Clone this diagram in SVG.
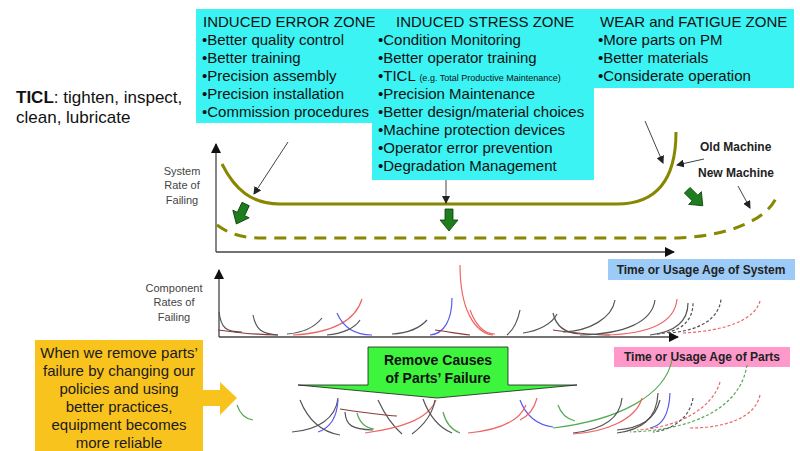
<svg xmlns="http://www.w3.org/2000/svg" width="800" height="451" viewBox="0 0 800 451">
<style>
text{font-family:"Liberation Sans",Arial,sans-serif;}
.z{font-size:15px;fill:#111;}
.lab{font-size:11px;fill:#444;text-anchor:middle;}
.bl{font-size:12px;font-weight:bold;fill:#222;}
.ol{fill:none;stroke:#878700;stroke-width:3;}
.thin{fill:none;stroke:#444;stroke-width:1;marker-end:url(#ah);}
.ax{fill:none;stroke:#444;stroke-width:1.3;marker-end:url(#ah2);}
.g{fill:none;stroke:#555;stroke-width:1.2;}
.r{fill:none;stroke:#EE6666;stroke-width:1.2;}
.b{fill:none;stroke:#5A5AEE;stroke-width:1.2;}
.gr{fill:none;stroke:#55AA55;stroke-width:1.2;}
.br{fill:none;stroke:#8B3A3A;stroke-width:1.2;}
.d{stroke-dasharray:3 2;}
.garr{fill:#1E7E1E;stroke:#0B3B0B;stroke-width:0.8;}
</style>
<defs>
<marker id="ah" markerWidth="8" markerHeight="8" refX="7" refY="4" orient="auto" markerUnits="userSpaceOnUse"><path d="M0,0 L8,4 L0,8 Z" fill="#222"/></marker>
<marker id="ah2" markerWidth="10" markerHeight="10" refX="9" refY="5" orient="auto" markerUnits="userSpaceOnUse"><path d="M0,0 L10,5 L0,10 Z" fill="#111"/></marker>
<path id="ga" d="M-4,-11 H4 V0 H9 L0,11 L-9,0 H-4 Z"/>
</defs>
<rect width="800" height="451" fill="#fff"/>

<g id="cyan-boxes">
<rect x="196" y="9" width="177" height="114" fill="#3CF3F3"/>
<rect x="372" y="9" width="222" height="171" fill="#3CF3F3"/>
<rect x="590" y="9" width="204" height="79" fill="#3CF3F3"/>
</g>

<g id="induced-error-zone">
<text class="z" x="203" y="27">INDUCED ERROR ZONE</text>
<text class="z" x="202" y="45">•Better quality control</text>
<text class="z" x="202" y="63">•Better training</text>
<text class="z" x="202" y="81">•Precision assembly</text>
<text class="z" x="202" y="99">•Precision installation</text>
<text class="z" x="202" y="117">•Commission procedures</text>
</g>

<g id="induced-stress-zone">
<text class="z" x="396" y="27">INDUCED STRESS ZONE</text>
<text class="z" x="378" y="45">•Condition Monitoring</text>
<text class="z" x="378" y="63">•Better operator training</text>
<text class="z" x="378" y="81">•TICL <tspan font-size="9">(e.g. Total Productive Maintenance)</tspan></text>
<text class="z" x="378" y="99">•Precision Maintenance</text>
<text class="z" x="378" y="117">•Better design/material choices</text>
<text class="z" x="378" y="135">•Machine protection devices</text>
<text class="z" x="378" y="153">•Operator error prevention</text>
<text class="z" x="378" y="171">•Degradation Management</text>
</g>

<g id="wear-fatigue-zone">
<text class="z" x="600" y="27">WEAR and FATIGUE ZONE</text>
<text class="z" x="598" y="45">•More parts on PM</text>
<text class="z" x="598" y="63">•Better materials</text>
<text class="z" x="598" y="81">•Considerate operation</text>
</g>

<g id="ticl-note">
<text x="16" y="103" font-size="17" fill="#111"><tspan font-weight="bold">TICL</tspan>: tighten, inspect,</text>
<text x="16" y="123" font-size="17" fill="#111">clean, lubricate</text>
</g>

<g id="system-chart">
<text class="lab" x="182" y="175">System</text>
<text class="lab" x="182" y="189">Rate of</text>
<text class="lab" x="182" y="204">Failing</text>
<path class="ax" d="M216,252 V144"/>
<path class="ax" d="M216,252 H674"/>
<path class="ol" d="M222,164 C235,190 252,204 280,204 L617,204 C652,204 676,185 676,132"/>
<path class="ol" d="M217,225 C228,233 240,238 262,238 L678,238 C728,236 770,220 778,193" stroke-dasharray="12 8" stroke-width="3.5"/>
</g>

<g id="old-machine-label"><text class="bl" x="700" y="151" font-size="10.5">Old Machine</text></g>
<g id="new-machine-label"><text class="bl" x="698" y="177" font-size="10.5">New Machine</text></g>

<g id="time-system-box">
<rect x="608" y="259" width="187" height="21" fill="#9CCBF7"/>
<text class="bl" x="701" y="274" text-anchor="middle">Time or Usage Age of System</text>
</g>

<g id="green-arrows">
<use href="#ga" class="garr" transform="translate(241,214) rotate(25)"/>
<use href="#ga" class="garr" transform="translate(449,220)"/>
<use href="#ga" class="garr" transform="translate(695,198) rotate(-45)"/>
</g>

<g id="connectors">
<path class="thin" d="M288,142 L254,194"/>
<path class="thin" d="M446,180 L446,203"/>
<path class="thin" d="M645,121 L663,163"/>
<path class="thin" d="M704,159 L677,165"/>
<path class="thin" d="M738,186 L750,208"/>
</g>

<g id="component-chart">
<text class="lab" x="174" y="292">Component</text>
<text class="lab" x="174" y="306">Rates of</text>
<text class="lab" x="174" y="321">Failing</text>
<path class="ax" d="M219,337 V270"/>
<path class="ax" d="M219,337 H678"/>
<path class="g" d="M219,312 C221,328 226,332 242,332"/>
<path class="br" d="M218,330 C240,333 260,335 278,335"/>
<path class="g" d="M253,315 C256,330 262,334 278,335"/>
<path class="g" d="M287,334 C300,333 314,328 322,318"/>
<path class="r" d="M293,335 C330,333 355,322 362,299"/>
<path class="b" d="M337,313 C343,327 355,335 372,335"/>
<path class="g" d="M327,335 C342,334 355,328 360,320"/>
<path class="g" d="M392,334 C408,333 420,328 427,320"/>
<path class="b" d="M430,335 C444,334 452,320 452,298"/>
<path class="r" d="M460,265 C460,310 475,333 493,335"/>
<path class="br" d="M435,330 C450,332 460,334 470,335"/>
<path class="r" d="M470,310 C476,326 484,334 495,334"/>
<path class="g" d="M507,335 C513,330 518,320 520,310"/>
<path class="g" d="M523,333 C538,331 552,324 557,314"/>
<path class="g" d="M553,313 C556,327 565,333 580,334"/>
<path class="br" d="M553,330 C575,333 595,335 610,335"/>
<path class="g" d="M563,332 C590,331 612,318 615,300"/>
<path class="g" d="M580,335 C625,334 652,322 655,300"/>
<path class="r" d="M605,335 C650,334 675,322 677,299"/>
<path class="g" d="M650,335 C675,332 688,322 688,303"/>
<path class="g d" d="M657,334 C680,332 693,322 693,303"/>
<path class="g d" d="M668,333 C700,331 720,318 721,298"/>
<path class="r d" d="M683,333 C725,331 755,320 760,301"/>
</g>

<g id="time-parts-box">
<rect x="614" y="347" width="176" height="20" fill="#FF99CC"/>
<text class="bl" x="702" y="361" text-anchor="middle">Time or Usage Age of Parts</text>
</g>

<g id="remove-causes-arrow">
<path d="M368,347 H508 V385 H577 L437,398 L298,385 H368 Z" fill="#3DF53D" stroke="#1c1c1c" stroke-width="0.8"/>
<text x="438" y="365" font-size="14" font-weight="bold" fill="#111" text-anchor="middle">Remove Causes</text>
<text x="438" y="383" font-size="14" font-weight="bold" fill="#111" text-anchor="middle">of Parts’ Failure</text>
</g>

<g id="reliability-note">
<rect x="35" y="340" width="168" height="111" fill="#F9C31E"/>
<path d="M203,390 H220 V382 L237,398 L220,415 V406 H203 Z" fill="#F9C31E"/>
<text x="119" y="358" font-size="15" fill="#1a1a1a" text-anchor="middle">When we remove parts’</text>
<text x="119" y="376" font-size="15" fill="#1a1a1a" text-anchor="middle">failure by changing our</text>
<text x="119" y="394" font-size="15" fill="#1a1a1a" text-anchor="middle">policies and using</text>
<text x="119" y="412" font-size="15" fill="#1a1a1a" text-anchor="middle">better practices,</text>
<text x="119" y="430" font-size="15" fill="#1a1a1a" text-anchor="middle">equipment becomes</text>
<text x="119" y="448" font-size="15" fill="#1a1a1a" text-anchor="middle">more reliable</text>
</g>

<g id="removed-parts-curves">
<path class="gr" d="M237,405 C240,414 246,419 253,420"/>
<path class="g" d="M300,400 C308,420 322,432 340,435"/>
<path class="g" d="M338,398 C336,418 318,430 292,432"/>
<path class="b" d="M338,400 C337,417 330,428 318,432"/>
<path class="br" d="M340,409 C360,412 380,415 397,416"/>
<path class="g" d="M345,412 C346,426 352,429 373,430"/>
<path class="gr" d="M357,413 C360,424 366,428 374,429"/>
<path class="g" d="M378,400 C385,415 395,428 402,434"/>
<path class="r" d="M365,433 C400,428 428,420 436,400"/>
<path class="g" d="M423,399 C430,418 440,428 452,433"/>
<path class="g" d="M435,400 C432,418 420,428 412,434"/>
<path class="gr" d="M443,412 C446,424 452,430 460,433"/>
<path class="b" d="M520,400 C526,416 538,425 553,427"/>
<path class="r" d="M537,398 C534,410 528,416 520,420"/>
<path class="r" d="M468,433 C500,430 520,420 526,405"/>
<path class="gr" d="M558,405 C561,414 567,419 575,421"/>
<path class="gr" d="M553,428 C620,420 665,395 672,360"/>
<path class="g" d="M622,398 C620,420 600,430 573,433"/>
<path class="r" d="M642,398 C636,420 605,432 573,434"/>
<path class="g" d="M658,393 C657,420 640,430 617,433"/>
<path class="g" d="M660,400 C655,420 640,428 617,430"/>
<path class="b" d="M670,393 C669,415 662,426 650,428"/>
<path class="gr d" d="M747,365 C740,410 690,430 630,432"/>
<path class="r d" d="M720,382 C712,410 675,428 637,430"/>
<path class="g d" d="M693,398 C690,418 672,430 653,432"/>
<path class="r d" d="M760,395 C755,418 725,428 690,428"/>
</g>
</svg>
